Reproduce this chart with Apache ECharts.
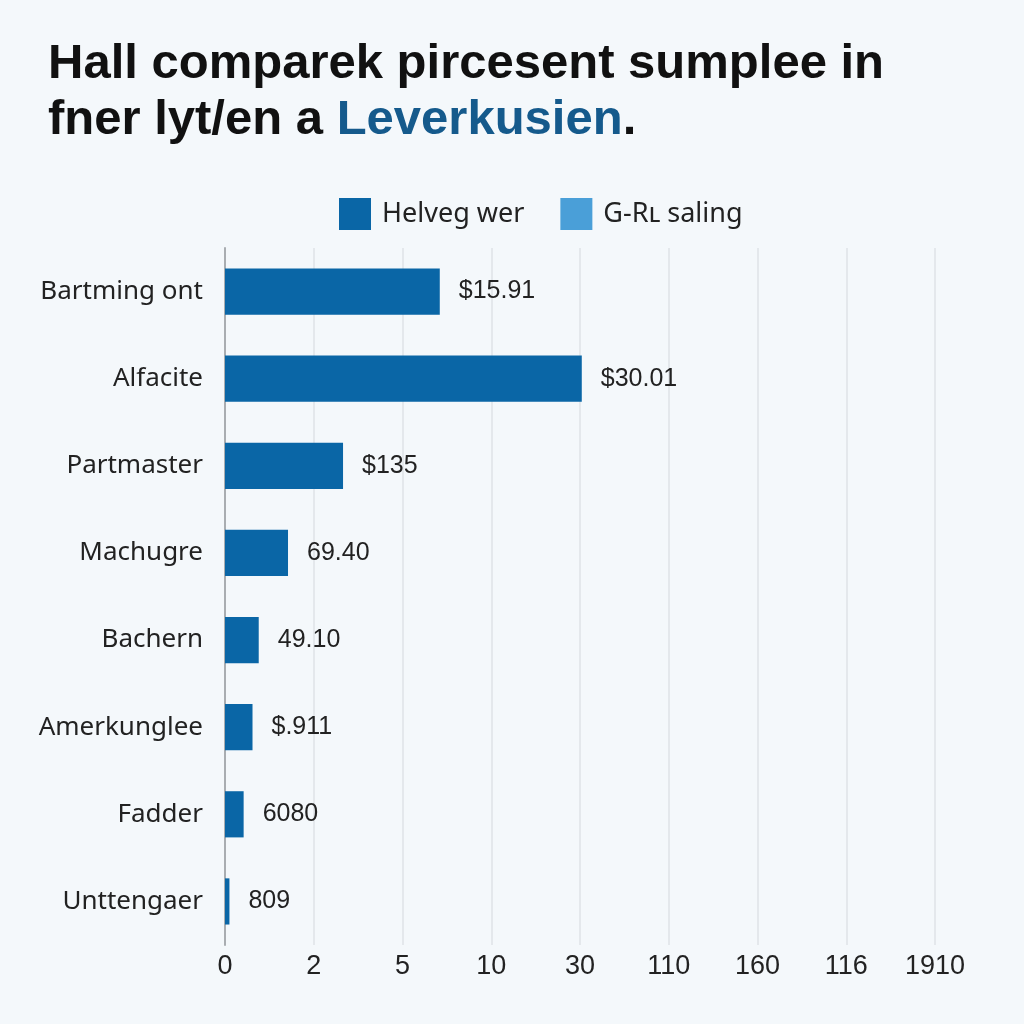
<!DOCTYPE html>
<html>
<head>
<meta charset="utf-8">
<script src="https://cdn.jsdelivr.net/npm/echarts@6/dist/echarts.min.js"></script>
<style>
html,body{margin:0;padding:0;background:#f4f8fb;}
#c{width:1024px;height:1024px;}
</style>
</head>
<body>
<div id="c"></div>
<script>
const categories = ["Bartming ont","Alfacite","Partmaster","Machugre","Bachern","Amerkunglee","Fadder","Unttengaer"];
const seriesNames = ["Helveg wer","G-Rʟ saling"];
// bar lengths measured in tick-position units of the (irregular) x axis
const values = [2.42, 4.02, 1.33, 0.71, 0.38, 0.31, 0.21, 0.05];
const valueLabels = ["$15.91","$30.01","$135","69.40","49.10","$.911","6080","809"];
const tickLabels = ["0","2","5","10","30","110","160","116","1910"];

const chart = echarts.init(document.getElementById('c'), null, {renderer:'canvas'});
const font = "'Liberation Sans', 'DejaVu Sans', sans-serif";
const font2 = "'Noto Sans', 'Liberation Sans', sans-serif";
chart.setOption({
  backgroundColor: '#f4f8fb',
  textStyle: {fontFamily: font},
  title: {
    left: 43, top: 31,
    text: '{a|Hall comparek pircesent sumplee in}\n{a|fner lyt/en a }{b|Leverkusien}{a|.}',
    textStyle: {
      rich: {
        a: {fontSize: 49, fontWeight: 'bold', color: '#111', fontFamily: font, lineHeight: 56},
        b: {fontSize: 49, fontWeight: 'bold', color: '#155a8c', fontFamily: font, lineHeight: 56}
      }
    }
  },
  legend: {
    top: 193, left: 334,
    itemWidth: 32, itemHeight: 32, itemGap: 36,
    icon: 'rect',
    textStyle: {fontSize: 27, color: '#222', fontFamily: font2, padding: [0,0,0,6]},
    data: seriesNames
  },
  grid: {left: 225, right: 89, top: 248, bottom: 79, containLabel: false},
  xAxis: {
    type: 'value', min: 0, max: 8, interval: 1,
    axisLine: {show: false}, axisTick: {show: false},
    splitLine: {show: true, lineStyle: {color: '#dfe3e7', width: 1.5}},
    axisLabel: {
      fontSize: 27, color: '#222', margin: 8,
      formatter: v => tickLabels[Math.round(v)]
    }
  },
  yAxis: {
    type: 'category', data: categories, inverse: true,
    axisLine: {show: true, lineStyle: {color: '#a9adb1', width: 2}},
    axisTick: {show: false},
    axisLabel: {fontSize: 26, color: '#222', margin: 22, fontFamily: font2}
  },
  series: [
    {
      name: seriesNames[0], type: 'bar', data: values,
      barCategoryGap: '47%', barGap: '-100%',
      itemStyle: {color: '#0a66a6'},
      label: {
        show: true, position: 'right', distance: 19,
        fontSize: 25, color: '#222', fontFamily: font,
        formatter: p => valueLabels[p.dataIndex]
      }
    },
    {
      name: seriesNames[1], type: 'bar', data: [],
      barCategoryGap: '47%', barGap: '-100%',
      itemStyle: {color: '#4a9fd8'}
    }
  ]
});
</script>
</body>
</html>
